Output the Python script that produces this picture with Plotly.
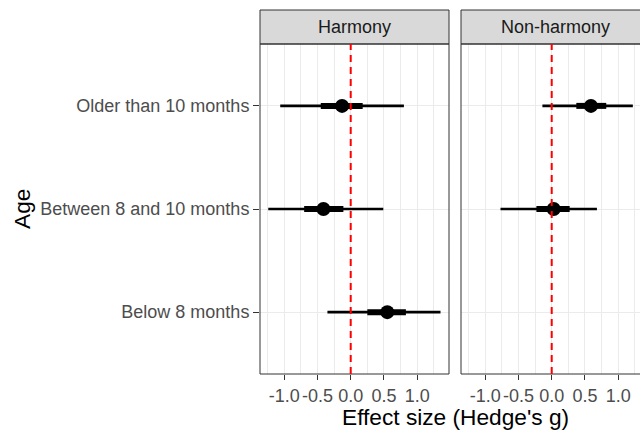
import plotly.graph_objects as go

# ---- data ----
age_levels = ["Below 8 months", "Between 8 and 10 months", "Older than 10 months"]
facets = ["Harmony", "Non-harmony"]

harm_age = ["Older than 10 months", "Between 8 and 10 months", "Below 8 months"]
harm_est = [-0.13, -0.41, 0.55]
harm_lo50 = [-0.45, -0.70, 0.25]
harm_hi50 = [0.18, -0.11, 0.83]
harm_lo95 = [-1.06, -1.24, -0.35]
harm_hi95 = [0.80, 0.49, 1.35]

non_age = ["Older than 10 months", "Between 8 and 10 months"]
non_est = [0.59, 0.03]
non_lo50 = [0.37, -0.23]
non_hi50 = [0.82, 0.27]
non_lo95 = [-0.14, -0.77]
non_hi95 = [1.22, 0.68]

x_ticks = [-1.0, -0.5, 0.0, 0.5, 1.0]
x_ticktext = ["-1.0", "-0.5", "0.0", "0.5", "1.0"]
x_minor = [-1.25, -0.75, -0.25, 0.25, 0.75, 1.25]

# ---- layout geometry (pixels) ----
W, H = 640, 431
p1 = (260, 449)
p2 = (461, 640)
ptop, pbot = 44, 374
stop = 10

def px(x):
    return x / W

def py(y):
    return 1 - y / H

xlo, xhi = -1.364, 1.478
scale = (xhi - xlo) / (p1[1] - p1[0])
x2hi = xlo + (p2[1] - p2[0]) * scale

FONT = "Liberation Sans, Arial, sans-serif"
TICK = 18.0
TITLE = 22.7


def segs(ys, a, b):
    xs, yy = [], []
    for y, l, h in zip(ys, a, b):
        xs += [l, h, None]
        yy += [y, y, None]
    return xs, yy


fig = go.Figure()
for ax, ay, ages, est, l5, h5, l9, h9 in [
    ("x", "y", harm_age, harm_est, harm_lo50, harm_hi50, harm_lo95, harm_hi95),
    ("x2", "y2", non_age, non_est, non_lo50, non_hi50, non_lo95, non_hi95),
]:
    xs, ys = segs(ages, l9, h9)
    fig.add_trace(go.Scatter(x=xs, y=ys, mode="lines", xaxis=ax, yaxis=ay,
                             line=dict(color="black", width=2.6), showlegend=False,
                             hoverinfo="skip"))
    xs, ys = segs(ages, l5, h5)
    fig.add_trace(go.Scatter(x=xs, y=ys, mode="lines", xaxis=ax, yaxis=ay,
                             line=dict(color="black", width=6), showlegend=False,
                             hoverinfo="skip"))
    fig.add_trace(go.Scatter(x=est, y=ages, mode="markers", xaxis=ax, yaxis=ay,
                             marker=dict(color="black", size=14), showlegend=False))

common_x = dict(
    tickmode="array", tickvals=x_ticks, ticktext=x_ticktext,
    ticks="outside", ticklen=5, tickcolor="#333333", tickwidth=1,
    tickfont=dict(family=FONT, size=TICK, color="#4D4D4D"),
    showgrid=True, gridcolor="#EBEBEB", gridwidth=1.2,
    minor=dict(tickmode="array", tickvals=x_minor, showgrid=True,
               gridcolor="#EBEBEB", gridwidth=0.7, ticks=""),
    zeroline=False, showline=False, automargin=False,
)
common_y = dict(
    type="category", categoryorder="array", categoryarray=age_levels,
    range=[-0.6, 2.6], domain=[py(pbot), py(ptop)],
    showgrid=True, gridcolor="#EBEBEB", gridwidth=1.2,
    zeroline=False, showline=False, automargin=False,
)

fig.update_layout(
    width=W, height=H,
    margin=dict(l=0, r=0, t=0, b=0),
    paper_bgcolor="white", plot_bgcolor="white",
    font=dict(family=FONT, color="black"),
    xaxis=dict(domain=[px(p1[0]), px(p1[1])], range=[xlo, xhi], anchor="y", **common_x),
    xaxis2=dict(domain=[px(p2[0]), 1.0], range=[xlo, x2hi], anchor="y2", **common_x),
    yaxis=dict(anchor="x", ticks="outside", ticklen=6, tickcolor="#333333", tickwidth=1,
               tickfont=dict(family=FONT, size=TICK, color="#4D4D4D"), **common_y),
    yaxis2=dict(anchor="x2", matches="y", showticklabels=False, ticks="", **common_y),
)

shapes = []
# strips
for (a, b), name in zip([p1, p2], facets):
    shapes.append(dict(type="rect", xref="paper", yref="paper",
                       x0=px(a), x1=px(b) if b < W else 1.01, y0=py(ptop), y1=py(stop),
                       fillcolor="#D9D9D9", line=dict(color="#333333", width=1), layer="above"))
    fig.add_annotation(x=px((a + (b if b < W else 650)) / 2), y=py((stop + ptop) / 2),
                       xref="paper", yref="paper", text=name, showarrow=False,
                       font=dict(family=FONT, size=TICK, color="#1A1A1A"),
                       xanchor="center", yanchor="middle")
# panel borders
for a, b in [p1, p2]:
    shapes.append(dict(type="rect", xref="paper", yref="paper",
                       x0=px(a), x1=px(b) if b < W else 1.01, y0=py(pbot), y1=py(ptop),
                       line=dict(color="#333333", width=1), fillcolor="rgba(0,0,0,0)", layer="above"))
# reference lines
for ax in ["x", "x2"]:
    shapes.append(dict(type="line", xref=ax, yref="paper", x0=0, x1=0,
                       y0=py(pbot), y1=py(ptop),
                       line=dict(color="red", width=2, dash="7px,5px"), layer="above"))
fig.update_layout(shapes=shapes)

fig.add_annotation(x=px(455), y=py(417), xref="paper", yref="paper",
                   text="Effect size (Hedge's g)", showarrow=False, borderpad=0,
                   font=dict(family=FONT, size=TITLE, color="black"),
                   xanchor="center", yanchor="middle")
fig.add_annotation(x=px(22), y=py((ptop + pbot) / 2), xref="paper", yref="paper",
                   text="Age", showarrow=False, textangle=-90, borderpad=0,
                   font=dict(family=FONT, size=TITLE, color="black"),
                   xanchor="center", yanchor="middle")

fig.write_html("out.html",
               config={"displayModeBar": False},
               post_script="document.body.style.margin='0';document.body.style.overflow='hidden';")
